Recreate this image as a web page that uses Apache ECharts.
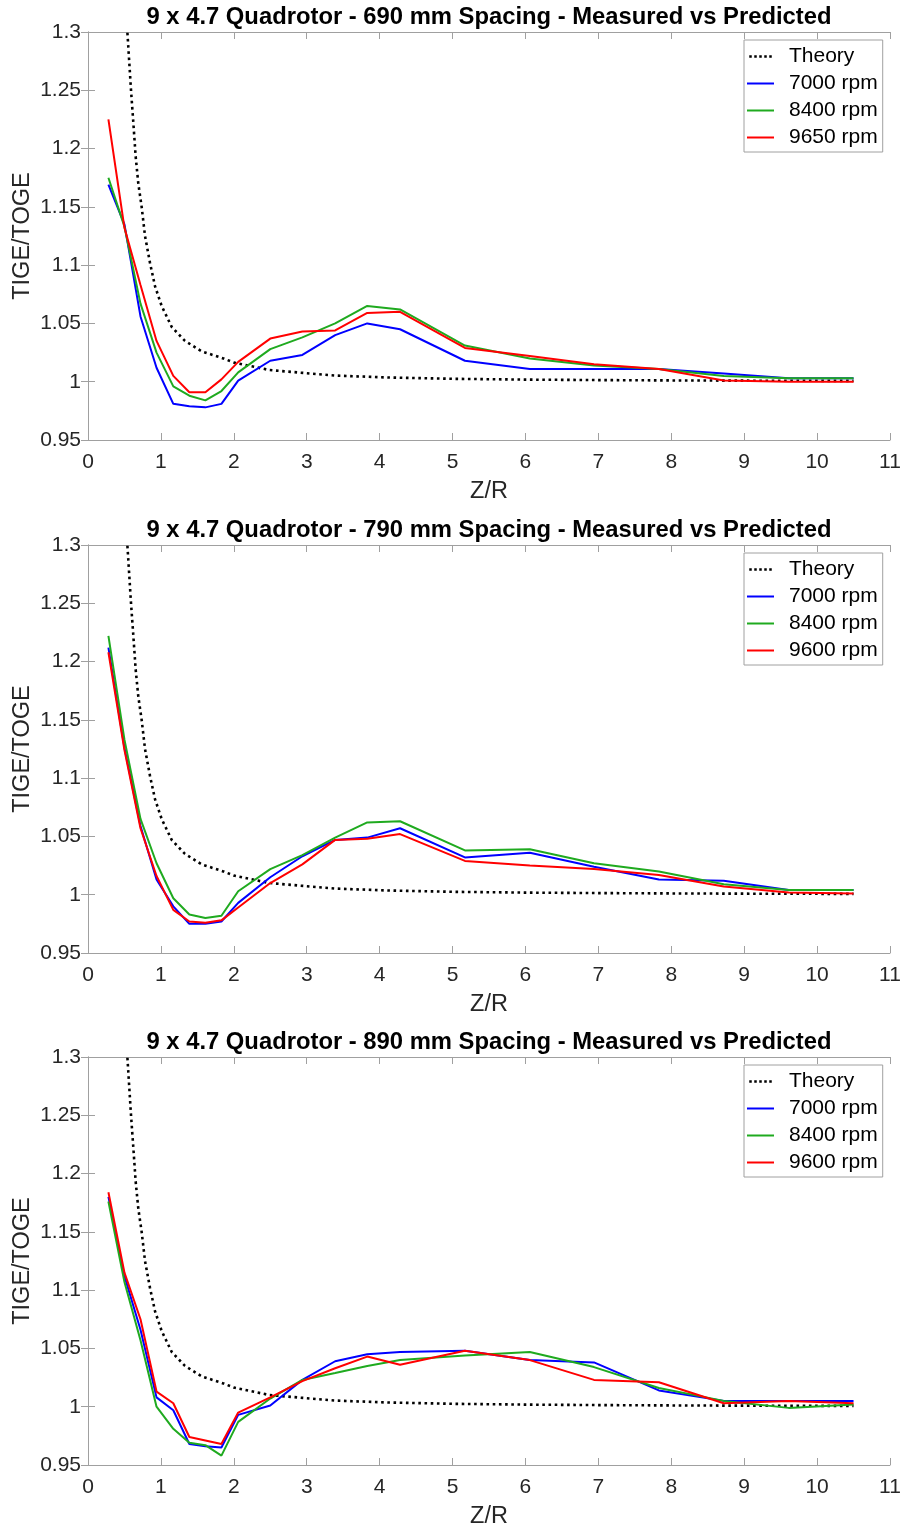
<!DOCTYPE html>
<html>
<head>
<meta charset="utf-8">
<script src="https://cdn.jsdelivr.net/npm/echarts@6/dist/echarts.min.js"></script>
<style>
  html, body { margin: 0; padding: 0; background: #fff; }
  #chart { width: 906px; height: 1527px; }
</style>
</head>
<body>
<div id="chart"></div>
<script>
// Measurement heights, Z/R (same stations for every rotor speed)
const zr = [0.28, 0.5, 0.72, 0.94, 1.17, 1.39, 1.61, 1.83, 2.06, 2.5, 2.94, 3.39, 3.83, 4.28, 5.17, 6.06, 6.94, 7.83, 8.72, 9.61, 10.5];

// Ground-effect theory curve
const theoryZ = [0.53, 0.54, 0.567, 0.59, 0.622, 0.654, 0.69, 0.736, 0.782, 0.85, 0.919, 1.01, 1.148, 1.33, 1.56, 1.857, 2.0, 2.49, 3.38, 4.12, 5.0, 6.0, 7.0, 8.0, 9.0, 10.5];
const theoryV = [1.31, 1.30, 1.273, 1.25, 1.222, 1.193, 1.17, 1.15, 1.125, 1.102, 1.082, 1.065, 1.047, 1.035, 1.026, 1.020, 1.0164, 1.010, 1.0053, 1.0036, 1.0025, 1.0018, 1.0014, 1.0011, 1.0009, 1.0007];

// 690 mm spacing
const s690_7000 = [1.169, 1.135, 1.056, 1.012, 0.981, 0.979, 0.978, 0.981, 1.001, 1.018, 1.023, 1.040, 1.050, 1.045, 1.018, 1.011, 1.011, 1.011, 1.007, 1.003, 1.003];
const s690_8400 = [1.175, 1.133, 1.067, 1.025, 0.996, 0.988, 0.984, 0.992, 1.008, 1.028, 1.038, 1.050, 1.065, 1.062, 1.031, 1.020, 1.014, 1.011, 1.005, 1.003, 1.003];
const s690_9650 = [1.225, 1.132, 1.083, 1.035, 1.005, 0.991, 0.991, 1.002, 1.017, 1.037, 1.043, 1.044, 1.059, 1.060, 1.029, 1.022, 1.015, 1.011, 1.001, 1.000, 1.000];

// 790 mm spacing
const s790_7000 = [1.212, 1.126, 1.059, 1.013, 0.990, 0.975, 0.975, 0.977, 0.993, 1.015, 1.033, 1.047, 1.049, 1.057, 1.032, 1.036, 1.024, 1.013, 1.012, 1.004, 1.004];
const s790_8400 = [1.222, 1.133, 1.065, 1.027, 0.997, 0.983, 0.980, 0.982, 1.003, 1.022, 1.034, 1.049, 1.062, 1.063, 1.038, 1.039, 1.027, 1.020, 1.009, 1.004, 1.004];
const s790_9600 = [1.208, 1.124, 1.057, 1.016, 0.987, 0.977, 0.976, 0.978, 0.989, 1.010, 1.026, 1.047, 1.048, 1.052, 1.029, 1.025, 1.022, 1.017, 1.007, 1.002, 1.001];

// 890 mm spacing
const s890_7000 = [1.180, 1.112, 1.066, 1.008, 0.997, 0.968, 0.966, 0.965, 0.993, 1.001, 1.023, 1.039, 1.045, 1.047, 1.048, 1.040, 1.038, 1.014, 1.005, 1.005, 1.005];
const s890_8400 = [1.176, 1.107, 1.057, 1.000, 0.981, 0.969, 0.967, 0.958, 0.987, 1.007, 1.023, 1.029, 1.035, 1.040, 1.044, 1.047, 1.034, 1.016, 1.005, 0.999, 1.002];
const s890_9600 = [1.184, 1.115, 1.075, 1.013, 1.003, 0.974, 0.971, 0.968, 0.995, 1.008, 1.022, 1.033, 1.043, 1.036, 1.048, 1.040, 1.023, 1.021, 1.003, 1.005, 1.003];

const panelTitles = [
  '9 x 4.7 Quadrotor - 690 mm Spacing - Measured vs Predicted',
  '9 x 4.7 Quadrotor - 790 mm Spacing - Measured vs Predicted',
  '9 x 4.7 Quadrotor - 890 mm Spacing - Measured vs Predicted'
];
const speedNames = [
  ['7000 rpm', '8400 rpm', '9650 rpm'],
  ['7000 rpm', '8400 rpm', '9600 rpm'],
  ['7000 rpm', '8400 rpm', '9600 rpm']
];
const panelData = [
  [s690_7000, s690_8400, s690_9650],
  [s790_7000, s790_8400, s790_9600],
  [s890_7000, s890_8400, s890_9600]
];

const speedColors = ['#0000ff', '#1faa1f', '#ff0000'];
const gridTops = [32, 545, 1057];
const gridHeight = 408;
const font = 'Liberation Sans, Arial, sans-serif';
const axisGray = '#a0a0a0';
const textDark = '#262626';

// legend glyphs: a dotted run for the theory curve, a plain bar for measurements
const dotIcon = 'path://M0,0h3v3h-3z M6,0h3v3h-3z M12,0h3v3h-3z M18,0h3v3h-3z M24,0h3v3h-3z';
const barIcon = 'path://M0,0h27v2h-27z';

const chart = echarts.init(document.getElementById('chart'), null, { renderer: 'canvas' });

const grid = [], xAxis = [], yAxis = [], series = [], title = [], legend = [];

gridTops.forEach((top, i) => {
  grid.push({ left: 88, right: 16, top: top, height: gridHeight, outerBoundsMode: 'none', containLabel: false });

  title.push({
    text: panelTitles[i],
    left: 489, textAlign: 'center', top: top - 27, padding: 0,
    textStyle: { fontFamily: font, fontSize: 23.8, fontWeight: 'bold', color: '#000' }
  });

  const tickCommon = { show: true, inside: true, length: 7, lineStyle: { color: axisGray } };
  const lineCommon = { show: true, lineStyle: { color: axisGray, width: 1 } };

  xAxis.push({
    type: 'value', gridIndex: i, position: 'bottom', min: 0, max: 11, interval: 1,
    axisLine: lineCommon, axisTick: tickCommon, splitLine: { show: false },
    axisLabel: { fontFamily: font, fontSize: 21, color: textDark, margin: 12 },
    name: 'Z/R', nameLocation: 'middle', nameGap: 40, nameMoveOverlap: false,
    nameTextStyle: { fontFamily: font, fontSize: 23.5, color: textDark }
  });
  xAxis.push({
    type: 'value', gridIndex: i, position: 'top', min: 0, max: 11, interval: 1,
    axisLine: lineCommon, axisTick: tickCommon, splitLine: { show: false },
    axisLabel: { show: false }
  });
  yAxis.push({
    type: 'value', gridIndex: i, position: 'left', min: 0.95, max: 1.3, interval: 0.05,
    axisLine: lineCommon, axisTick: tickCommon, splitLine: { show: false },
    axisLabel: { fontFamily: font, fontSize: 21, color: textDark, margin: 7 },
    name: 'TIGE/TOGE', nameLocation: 'middle', nameGap: 53, nameRotate: 90, nameMoveOverlap: false,
    nameTextStyle: { fontFamily: font, fontSize: 23.5, color: textDark }
  });
  yAxis.push({
    type: 'value', gridIndex: i, position: 'right', min: 0.95, max: 1.3, interval: 0.05,
    axisLine: lineCommon, axisTick: tickCommon, splitLine: { show: false },
    axisLabel: { show: false }
  });

  series.push({
    name: 'Theory', type: 'line', xAxisIndex: 2 * i, yAxisIndex: 2 * i,
    data: theoryZ.map((z, k) => [z, theoryV[k]]),
    symbol: 'none', clip: true, silent: true,
    lineStyle: { color: '#000', width: 2.6, type: [2.6, 3.6] },
    itemStyle: { color: '#000' }
  });
  panelData[i].forEach((vals, s) => {
    series.push({
      name: speedNames[i][s], type: 'line', xAxisIndex: 2 * i, yAxisIndex: 2 * i,
      data: zr.map((z, k) => [z, vals[k]]),
      symbol: 'none', clip: true, silent: true,
      lineStyle: { color: speedColors[s], width: 2 },
      itemStyle: { color: speedColors[s] }
    });
  });

  legend.push({
    orient: 'vertical', left: 744, top: top + 8,
    data: [{ name: 'Theory', icon: dotIcon }].concat(
      speedNames[i].map(n => ({ name: n, icon: barIcon }))),
    itemWidth: 27, itemHeight: 2.5, itemGap: 6,
    padding: [6, 5, 4, 3],
    borderColor: axisGray, borderWidth: 1, backgroundColor: '#fff',
    selectedMode: false,
    textStyle: { fontFamily: font, fontSize: 21, color: '#000', padding: [0, 0, 0, 10] }
  });
});

chart.setOption({
  animation: false,
  backgroundColor: '#fff',
  title, grid, xAxis, yAxis, legend, series
});
</script>
</body>
</html>
